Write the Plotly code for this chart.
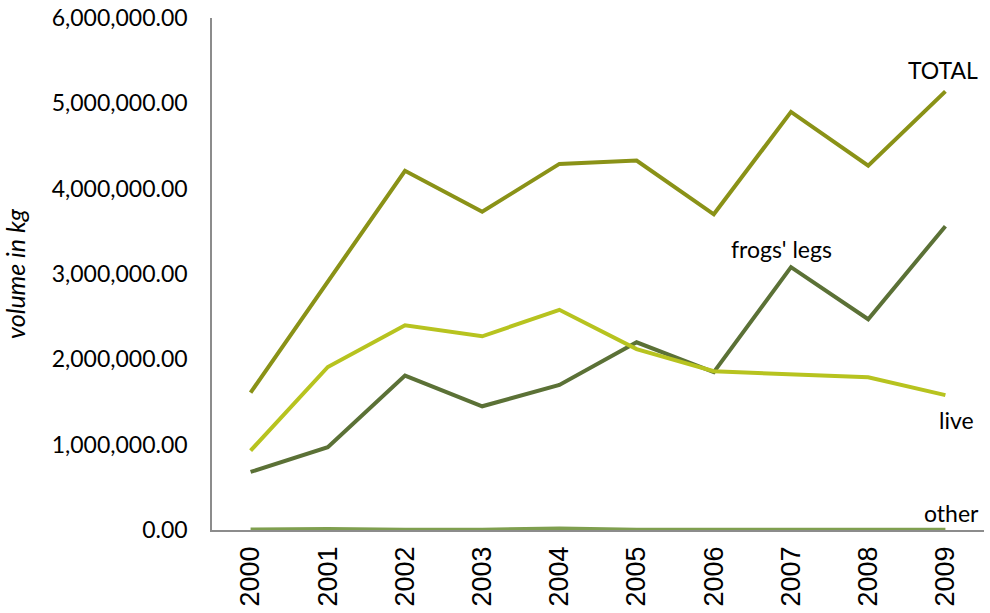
import plotly.graph_objects as go

years = ["2000", "2001", "2002", "2003", "2004", "2005", "2006", "2007", "2008", "2009"]
total = [1610000, 2900000, 4210000, 3730000, 4290000, 4330000, 3700000, 4900000, 4270000, 5140000]
frogs_legs = [680000, 970000, 1810000, 1450000, 1700000, 2200000, 1850000, 3080000, 2470000, 3560000]
live = [930000, 1910000, 2400000, 2270000, 2580000, 2120000, 1860000, 1820000, 1790000, 1580000]
other = [5000, 12000, 3000, 4000, 18000, 2000, 3000, 2000, 2000, 2000]

series = [
    ("other", other, "#7f9f4f"),
    ("frogs' legs", frogs_legs, "#5b7136"),
    ("live", live, "#b7c31f"),
    ("TOTAL", total, "#8a9217"),
]

fig = go.Figure()
for name, vals, col in series:
    fig.add_trace(go.Scatter(x=years, y=vals, mode="lines", name=name,
                             line=dict(color=col, width=4), showlegend=False))

L, R, T, B = 212, 6, 18, 83
W, H = 990 - L - R, 613 - T - B

labels = [("TOTAL", 943, 70), ("frogs' legs", 781, 249), ("live", 956, 420), ("other", 951, 513)]
for txt, px, py in labels:
    fig.add_annotation(text=txt, x=(px - L) / W, y=1 - (py - T) / H, xref="paper", yref="paper",
                       showarrow=False, xanchor="center", yanchor="middle",
                       font=dict(family="Lato", size=23, color="#000000"))

fig.update_layout(
    width=990, height=613,
    margin=dict(l=L, r=R, t=T, b=B),
    plot_bgcolor="white", paper_bgcolor="white",
    xaxis=dict(type="category", range=[-0.5, 9.5], showgrid=False, showline=True,
               linecolor="#8c8c8c", linewidth=1.5, ticks="", tickangle=-90,
               automargin=False, ticklabelstandoff=4,
               tickfont=dict(family="Liberation Sans", size=27, color="#000000")),
    yaxis=dict(range=[0, 6000000], dtick=1000000, tickformat=",.2f", showgrid=False,
               showline=True, linecolor="#8c8c8c", linewidth=1.5, ticks="",
               zeroline=False, automargin=False, ticklabelstandoff=18,
               tickfont=dict(family="Lato", size=23, color="#000000"),
               title=dict(text="<i>volume in kg</i>", font=dict(family="Lato", size=25, color="#000000"),
                          standoff=30)),
)

fig.write_html("out.html", config={"displayModeBar": False},
               post_script="document.body.style.margin='0';")
